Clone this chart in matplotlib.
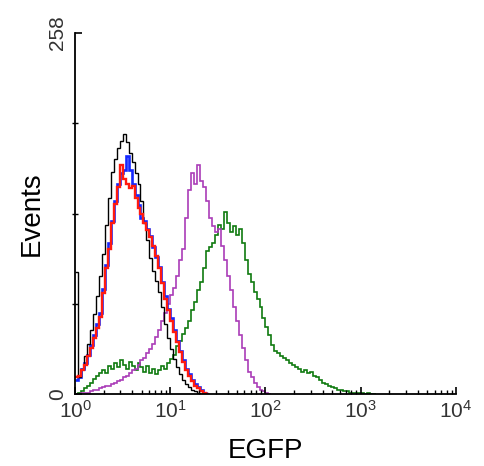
"""
EGFP flow cytometry overlay histogram (log scale, 4 decades).
"""
import matplotlib
matplotlib.use("Agg")
import matplotlib.pyplot as plt
import numpy as np
from matplotlib.ticker import FixedLocator, LogLocator, NullFormatter

plt.rcParams["font.family"] = ["Liberation Sans", "DejaVu Sans"]
plt.rcParams["mathtext.default"] = "regular"

# channel width in decades; each list starts at 10^0
BIN_DECADES = 1 / 32

black_counts = [87, 12, 18, 27, 36, 46, 57, 70, 84, 100, 121, 140, 159, 168, 176, 181,
                186, 180, 172, 166, 158, 150, 138, 122, 110, 97, 88, 81, 73, 62, 50, 40,
                32, 25, 19, 14, 10, 7, 5, 3, 2, 1, 0]
red_counts = [12, 13, 17, 21, 27, 33, 40, 47, 55, 72, 90, 104, 122, 136, 148, 164,
              154, 150, 147, 149, 140, 133, 129, 122, 117, 112, 106, 99, 90, 79, 68, 60,
              52, 44, 37, 30, 23, 17, 13, 9, 6, 4, 2, 1, 0]
blue_counts = [10, 12, 18, 22, 28, 35, 42, 50, 58, 75, 92, 108, 124, 138, 150, 158,
               160, 170, 160, 150, 142, 135, 126, 124, 118, 113, 105, 98, 91, 80, 70, 61,
               54, 46, 38, 31, 24, 18, 14, 10, 7, 5, 3, 1, 0]
purple_counts = [0, 0, 1, 1, 1, 2, 3, 3, 4, 5, 6, 6, 7, 8, 9, 10,
                 12, 13, 15, 17, 18, 21, 24, 26, 29, 32, 36, 41, 46, 52, 58, 64,
                 71, 76, 84, 96, 104, 126, 146, 158, 150, 164, 152, 148, 138, 126, 120, 116,
                 118, 106, 96, 84, 74, 62, 52, 42, 33, 24, 16, 12, 8, 5, 3, 2,
                 1, 0]
green_counts = [0, 1, 2, 4, 6, 8, 11, 13, 15, 17, 15, 20, 18, 22, 19, 24,
                21, 18, 23, 20, 17, 22, 19, 16, 20, 15, 18, 14, 17, 20, 18, 22,
                25, 28, 34, 38, 43, 47, 52, 60, 66, 74, 80, 90, 102, 105, 108, 114,
                121, 118, 130, 122, 116, 120, 114, 118, 108, 96, 86, 80, 73, 68, 62, 54,
                48, 42, 35, 31, 29, 27, 26, 24, 22, 21, 19, 18, 16, 17, 15, 16,
                13, 12, 10, 8, 7, 6, 5, 4, 3, 3, 2, 2, 1, 1, 1, 1,
                1, 0, 1, 0, 0]

series = [
    (green_counts, "#0f7a0f", 1.2),
    (purple_counts, "#aa3cb8", 1.2),
    (blue_counts, "#1428ff", 1.9),
    (black_counts, "#000000", 1.0),
    (red_counts, "#ff1a10", 1.7),
]


def edges_for(counts):
    return 10 ** (np.arange(len(counts) + 1) * BIN_DECADES)


def main():
    fig = plt.figure(figsize=(4.84, 4.66), dpi=100)
    ax = fig.add_axes([0.155, 0.1545, 0.787, 0.7745])

    for counts, color, lw in series:
        ax.stairs(counts, edges_for(counts), color=color, linewidth=lw, baseline=None)

    ax.set_xscale("log")
    ax.set_xlim(1, 1e4)
    ax.set_ylim(0, 258)

    ax.spines["top"].set_visible(False)
    ax.spines["right"].set_visible(False)
    ax.spines["left"].set_linewidth(1.3)
    ax.spines["bottom"].set_linewidth(1.3)

    ax.set_xticks([1, 10, 100, 1000, 10000])
    ax.set_xticklabels([r"$10^{0}$", r"$10^{1}$", r"$10^{2}$", r"$10^{3}$", r"$10^{4}$"])
    ax.xaxis.set_minor_locator(LogLocator(base=10, subs=np.arange(2, 10)))
    ax.xaxis.set_minor_formatter(NullFormatter())
    ax.tick_params(axis="x", which="major", direction="in", length=5, width=1.2,
                   labelsize=15, pad=4, labelcolor="#333333")
    ax.tick_params(axis="x", which="minor", direction="in", length=3, width=1.0)

    ax.set_yticks([0, 258])
    ax.set_yticklabels(["0", "258"], rotation=90, va="center")
    ax.yaxis.set_minor_locator(FixedLocator([64.5, 129, 193.5]))
    ax.tick_params(axis="y", which="major", direction="in", length=5, width=1.2,
                   labelsize=15, pad=6, labelcolor="#333333")
    ax.tick_params(axis="y", which="minor", direction="inout", length=4, width=1.0)

    ax.set_xlabel("EGFP", fontsize=20, labelpad=12)
    ax.set_ylabel("Events", fontsize=20, labelpad=2)

    fig.savefig("out.png", dpi=100)
    plt.close(fig)


if __name__ == "__main__":
    main()
